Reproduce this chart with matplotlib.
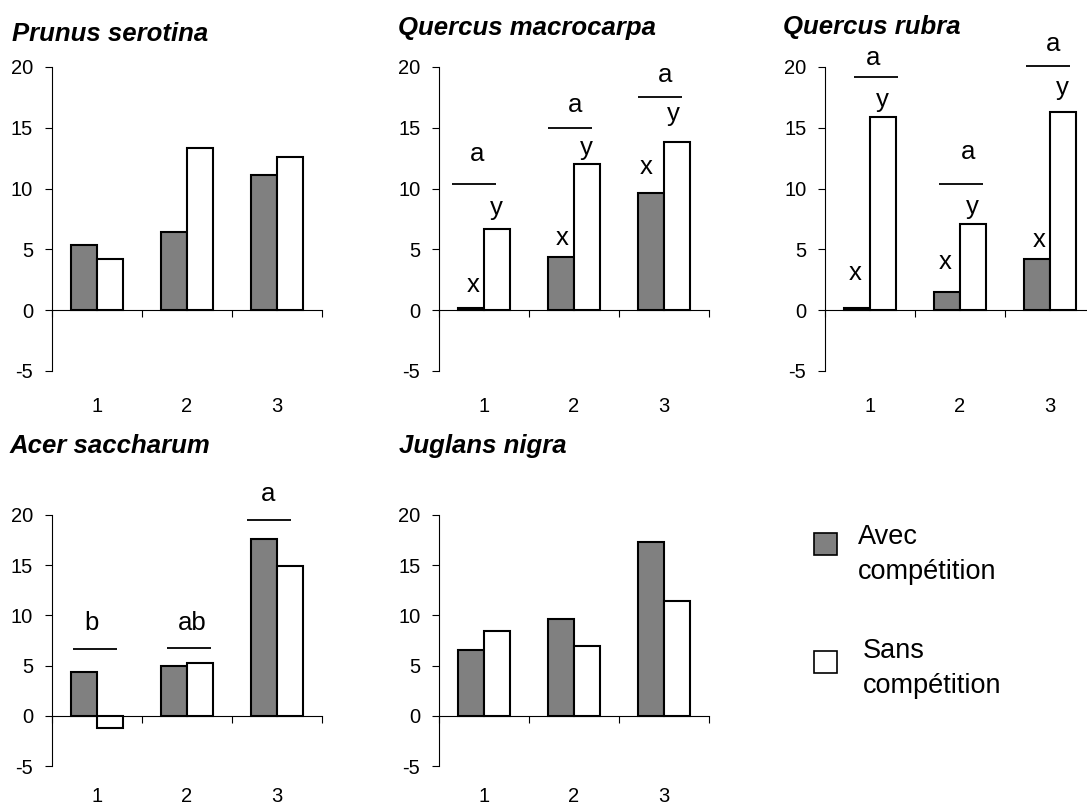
import numpy as np
import matplotlib
matplotlib.use("Agg")
import matplotlib.pyplot as plt
from matplotlib.patches import Rectangle

plt.rcParams["font.family"] = ["Liberation Sans", "DejaVu Sans"]
plt.rcParams["axes.unicode_minus"] = False

# ---- Data ----
categories = [1, 2, 3]
legend_labels = ["Avec\ncompétition", "Sans\ncompétition"]

prunus_avec = [5.35, 6.4, 11.1]
prunus_sans = [4.25, 13.3, 12.6]

macro_avec = [0.15, 4.4, 9.6]
macro_sans = [6.7, 12.0, 13.8]

rubra_avec = [0.15, 1.5, 4.2]
rubra_sans = [15.85, 7.05, 16.3]

acer_avec = [4.35, 4.95, 17.6]
acer_sans = [-1.25, 5.3, 14.95]

juglans_avec = [6.55, 9.6, 17.35]
juglans_sans = [8.4, 6.95, 11.45]

# significance letters (group letter over a line, and x / y over the bars)
macro_group = ["a", "a", "a"]
macro_group_x = [0.92, 2.01, 3.01]
macro_group_y = [12.3, 16.3, 18.8]
macro_line_x = [0.89, 1.96, 2.96]
macro_line_y = [10.35, 14.95, 17.55]
macro_xlet_x = [0.88, 1.87, 2.80]
macro_xlet_y = [1.5, 5.4, 11.2]
macro_ylet_x = [1.14, 2.14, 3.10]
macro_ylet_y = [7.8, 12.75, 15.55]

rubra_group = ["a", "a", "a"]
rubra_group_x = [1.03, 2.09, 3.03]
rubra_group_y = [20.2, 12.4, 21.3]
rubra_line_x = [1.07, 2.01, 2.98]
rubra_line_y = [19.2, 10.35, 20.1]
rubra_xlet_x = [0.83, 1.83, 2.88]
rubra_xlet_y = [2.5, 3.4, 5.2]
rubra_ylet_x = [1.14, 2.14, 3.14]
rubra_ylet_y = [16.7, 7.95, 17.7]

acer_group = ["b", "ab", "a"]
acer_group_x = [0.94, 2.06, 2.90]
acer_group_y = [8.5, 8.5, 21.4]
acer_line_x = [0.98, 2.02, 2.91]
acer_line_y = [6.65, 6.8, 19.5]

W, H = 1087, 809
DARK = "#808080"

# ---- Helpers ----

def fig_xy(x, y):
    return x / W, 1 - y / H


def make_axes(fig, left, top, bottom, label_pad=19):
    ax = fig.add_axes([left / W, (H - bottom) / H, 270 / W, (bottom - top) / H])
    ax.set_xlim(0.5, 3.5)
    ax.set_ylim(-5, 20)
    ax.set_yticks([-5, 0, 5, 10, 15, 20])
    ax.tick_params(axis="y", direction="out", length=5, width=0.8, pad=8.5, labelsize=14.5)
    for s in ("top", "right"):
        ax.spines[s].set_visible(False)
    ax.spines["left"].set_linewidth(0.8)
    # category axis crosses at zero, ticks between groups
    ax.spines["bottom"].set_position(("data", 0))
    ax.spines["bottom"].set_linewidth(0.8)
    ax.set_xticks([0.5, 1.5, 2.5, 3.5])
    ax.tick_params(axis="x", direction="out", length=5, width=0.8, labelbottom=False)
    # category labels under the plot
    sec = ax.secondary_xaxis("bottom")
    sec.set_xticks(categories)
    sec.set_xticklabels([str(c) for c in categories])
    sec.tick_params(length=0, pad=label_pad, labelsize=14.5)
    sec.spines["bottom"].set_visible(False)
    return ax


def draw_bars(ax, avec, sans):
    x = np.array(categories, dtype=float)
    bw = 0.29
    ax.bar(x - bw / 2, avec, bw, color=DARK, edgecolor="black", linewidth=1.5, zorder=3)
    ax.bar(x + bw / 2, sans, bw, color="white", edgecolor="black", linewidth=1.5, zorder=3)


def draw_groups(ax, letters, lx, ly, line_x, line_y):
    for t, x, y in zip(letters, lx, ly):
        ax.text(x, y, t, ha="center", va="baseline", fontsize=18.5, clip_on=False)
    line_x = np.array(line_x)
    ax.hlines(line_y, line_x - 0.245, line_x + 0.245, color="black", linewidth=1.3, clip_on=False)


def draw_letters(ax, letter, xs, ys):
    for x, y in zip(xs, ys):
        ax.text(x, y, letter, ha="center", va="baseline", fontsize=18.5, clip_on=False)


# ---- Figure ----
fig = plt.figure(figsize=(W / 100, H / 100), dpi=100)

ax1 = make_axes(fig, 52, 67, 371)
draw_bars(ax1, prunus_avec, prunus_sans)

ax2 = make_axes(fig, 439, 67, 371)
draw_bars(ax2, macro_avec, macro_sans)
draw_groups(ax2, macro_group, macro_group_x, macro_group_y, macro_line_x, macro_line_y)
draw_letters(ax2, "x", macro_xlet_x, macro_xlet_y)
draw_letters(ax2, "y", macro_ylet_x, macro_ylet_y)

ax3 = make_axes(fig, 825, 67, 371)
draw_bars(ax3, rubra_avec, rubra_sans)
draw_groups(ax3, rubra_group, rubra_group_x, rubra_group_y, rubra_line_x, rubra_line_y)
draw_letters(ax3, "x", rubra_xlet_x, rubra_xlet_y)
draw_letters(ax3, "y", rubra_ylet_x, rubra_ylet_y)

ax4 = make_axes(fig, 52, 515, 766, label_pad=15)
draw_bars(ax4, acer_avec, acer_sans)
draw_groups(ax4, acer_group, acer_group_x, acer_group_y, acer_line_x, acer_line_y)

ax5 = make_axes(fig, 439, 515, 766, label_pad=15)
draw_bars(ax5, juglans_avec, juglans_sans)

# ---- Titles ----
titles = [("Prunus serotina", 12, 41), ("Quercus macrocarpa", 398, 35),
          ("Quercus rubra", 783, 34), ("Acer saccharum", 10, 453),
          ("Juglans nigra", 399, 453)]
for t, x, y in titles:
    fig.text(*fig_xy(x, y), t, fontsize=18.5, fontweight="bold", fontstyle="italic",
             ha="left", va="baseline")

# ---- Legend ----
for (label, fill), (sq_y, tx, base) in zip(zip(legend_labels, [DARK, "white"]),
                                          [(533, 858, 544), (651, 863, 658)]):
    x0, y0 = fig_xy(814, sq_y + 22)
    fig.add_artist(Rectangle((x0, y0), 23 / W, 22 / H, transform=fig.transFigure,
                             facecolor=fill, edgecolor="black", linewidth=1.2))
    first, second = label.split("\n")
    fig.text(*fig_xy(tx, base), first, fontsize=19.5, ha="left", va="baseline")
    fig.text(*fig_xy(tx, base + 35), second, fontsize=19.5, ha="left", va="baseline")

fig.savefig("out.png", dpi=100)
